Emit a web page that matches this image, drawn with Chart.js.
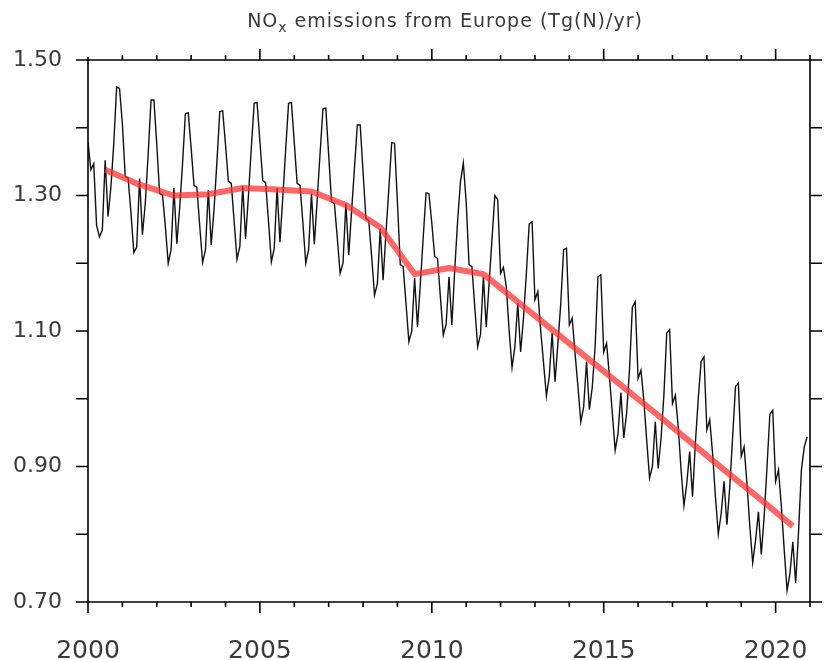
<!DOCTYPE html>
<html>
<head>
<meta charset="utf-8">
<script src="https://cdn.jsdelivr.net/npm/chart.js@4.4.0/dist/chart.umd.min.js"></script>
<style>
  html, body { margin: 0; padding: 0; background: #fff; }
  #wrap { width: 827px; height: 660px; }
</style>
</head>
<body>
<div id="wrap"><canvas id="c" width="827" height="660"></canvas></div>
<script>
// Monthly NOx emissions from Europe (Tg(N)/yr), one row per year, Jan..Dec
const firstYear = 2000;
const monthlyNOx = [
  [1.379, 1.338, 1.347, 1.256, 1.239, 1.249, 1.352, 1.269, 1.313, 1.377, 1.460, 1.458], // 2000
  [1.406, 1.328, 1.326, 1.274, 1.216, 1.224, 1.325, 1.242, 1.289, 1.361, 1.441, 1.441], // 2001
  [1.376, 1.303, 1.301, 1.254, 1.200, 1.220, 1.311, 1.229, 1.282, 1.347, 1.421, 1.422], // 2002
  [1.370, 1.315, 1.312, 1.255, 1.201, 1.220, 1.308, 1.227, 1.280, 1.350, 1.424, 1.425], // 2003
  [1.375, 1.321, 1.318, 1.262, 1.206, 1.225, 1.314, 1.236, 1.300, 1.370, 1.436, 1.437], // 2004
  [1.380, 1.322, 1.319, 1.262, 1.202, 1.222, 1.311, 1.231, 1.298, 1.368, 1.436, 1.437], // 2005
  [1.378, 1.318, 1.315, 1.260, 1.200, 1.220, 1.303, 1.228, 1.294, 1.362, 1.428, 1.429], // 2006
  [1.360, 1.291, 1.288, 1.238, 1.185, 1.200, 1.288, 1.212, 1.277, 1.340, 1.404, 1.404], // 2007
  [1.335, 1.266, 1.263, 1.210, 1.153, 1.170, 1.251, 1.175, 1.245, 1.310, 1.378, 1.377], // 2008
  [1.290, 1.198, 1.195, 1.140, 1.084, 1.100, 1.178, 1.106, 1.170, 1.238, 1.304, 1.303], // 2009
  [1.259, 1.210, 1.207, 1.150, 1.094, 1.110, 1.180, 1.109, 1.190, 1.262, 1.320, 1.348], // 2010
  [1.290, 1.198, 1.195, 1.135, 1.077, 1.095, 1.180, 1.106, 1.170, 1.235, 1.300, 1.294], // 2011
  [1.185, 1.194, 1.165, 1.100, 1.046, 1.077, 1.141, 1.069, 1.119, 1.185, 1.258, 1.261], // 2012
  [1.146, 1.158, 1.101, 1.053, 1.004, 1.033, 1.097, 1.025, 1.081, 1.140, 1.220, 1.222], // 2013
  [1.109, 1.119, 1.067, 1.018, 0.966, 0.988, 1.055, 0.984, 1.017, 1.077, 1.180, 1.183], // 2014
  [1.069, 1.082, 1.033, 0.979, 0.924, 0.949, 1.009, 0.942, 0.979, 1.043, 1.135, 1.143], // 2015
  [1.030, 1.042, 0.998, 0.939, 0.883, 0.900, 0.966, 0.897, 0.941, 1.005, 1.097, 1.102], // 2016
  [0.993, 1.005, 0.959, 0.895, 0.842, 0.875, 0.922, 0.855, 0.935, 1.000, 1.055, 1.062], // 2017
  [0.954, 0.969, 0.919, 0.855, 0.800, 0.831, 0.878, 0.814, 0.870, 0.944, 1.018, 1.023], // 2018
  [0.915, 0.929, 0.875, 0.811, 0.758, 0.791, 0.833, 0.770, 0.826, 0.900, 0.977, 0.983], // 2019
  [0.878, 0.895, 0.841, 0.777, 0.717, 0.742, 0.789, 0.728, 0.803, 0.895, 0.929, 0.944]  // 2020
];

// Annual means, plotted at mid-year
const annualYears = [2000, 2001, 2002, 2003, 2004, 2005, 2006, 2007, 2008, 2009, 2010,
                     2011, 2012, 2013, 2014, 2015, 2016, 2017, 2018, 2019, 2020];
const annualMeanNOx = [1.338, 1.316, 1.300, 1.302, 1.311, 1.309, 1.306, 1.286, 1.253, 1.184, 1.193,
                       1.184, 1.143, 1.102, 1.061, 1.020, 0.979, 0.937, 0.895, 0.854, 0.812];

// Labelled ticks
const xTickYears = [2000, 2005, 2010, 2015, 2020];
const yTickValues = [0.70, 0.90, 1.10, 1.30, 1.50];

const titleParts = { main: 'NO', sub: 'x', rest: ' emissions from Europe (Tg(N)/yr)' };

const FONT = '"DejaVu Sans", sans-serif';
const TEXT_COLOR = '#3a3a3a';

const monthlyPoints = monthlyNOx.flatMap((row, yi) =>
  row.map((v, m) => ({ x: firstYear + yi + m / 12, y: v })));
const annualPoints = annualYears.map((yr, i) => ({ x: yr + 0.5, y: annualMeanNOx[i] }));

// Frame, tick marks on all four sides, and the title with subscript
const frameAndTitle = {
  id: 'frameAndTitle',
  afterDraw(chart) {
    const { ctx, chartArea: a, scales: { x, y } } = chart;
    ctx.save();
    ctx.strokeStyle = '#000';
    ctx.lineWidth = 1.6;
    ctx.lineCap = 'butt';
    ctx.beginPath();
    ctx.rect(a.left, a.top, a.right - a.left, a.bottom - a.top);
    for (let yr = Math.ceil(x.min); yr <= x.max; yr++) {
      const px = x.getPixelForValue(yr);
      const major = yr % 5 === 0;
      ctx.moveTo(px, a.bottom); ctx.lineTo(px, a.bottom + (major ? 11 : 5));
      const topLen = yr === x.min ? 3 : (major ? 11 : 5);
      ctx.moveTo(px, a.top); ctx.lineTo(px, a.top - topLen);
    }
    for (let k = Math.round(y.min * 10); k <= Math.round(y.max * 10); k++) {
      const py = y.getPixelForValue(k / 10);
      ctx.moveTo(a.left - 12, py); ctx.lineTo(a.left, py);
      ctx.moveTo(a.right, py); ctx.lineTo(a.right + 12, py);
    }
    ctx.stroke();

    // Title
    ctx.fillStyle = TEXT_COLOR;
    ctx.textBaseline = 'alphabetic';
    ctx.textAlign = 'left';
    ctx.letterSpacing = '1px';
    const big = '19px ' + FONT, small = '14px ' + FONT;
    ctx.font = big;
    const w1 = ctx.measureText(titleParts.main).width;
    const w3 = ctx.measureText(titleParts.rest).width;
    ctx.font = small;
    const w2 = ctx.measureText(titleParts.sub).width;
    let tx = 445 - (w1 + w2 + w3) / 2;
    const base = 27;
    ctx.font = big;
    ctx.fillText(titleParts.main, tx, base);
    tx += w1;
    ctx.font = small;
    ctx.fillText(titleParts.sub, tx, base + 5);
    tx += w2;
    ctx.font = big;
    ctx.fillText(titleParts.rest, tx, base);
    ctx.restore();
  }
};

new Chart(document.getElementById('c'), {
  type: 'line',
  data: {
    datasets: [
      {
        label: 'Annual mean',
        data: annualPoints,
        borderColor: 'rgba(255, 45, 45, 0.72)',
        borderWidth: 6,
        pointRadius: 0,
        tension: 0,
        borderJoinStyle: 'round',
        borderCapStyle: 'butt'
      },
      {
        label: 'Monthly',
        data: monthlyPoints,
        borderColor: '#111',
        borderWidth: 1.4,
        pointRadius: 0,
        tension: 0
      }
    ]
  },
  options: {
    responsive: false,
    animation: false,
    devicePixelRatio: 1,
    layout: { padding: { left: 0, right: 17, top: 60, bottom: 0 } },
    plugins: {
      legend: { display: false },
      tooltip: { enabled: false },
      title: { display: false }
    },
    scales: {
      x: {
        type: 'linear',
        min: 2000,
        max: 2021,
        afterBuildTicks: s => { s.ticks = xTickYears.map(v => ({ value: v })); },
        afterFit: s => { s.height = 58; s.paddingLeft = 0; s.paddingRight = 0; },
        grid: { display: false, drawTicks: false },
        border: { display: false },
        ticks: {
          padding: 34,
          color: TEXT_COLOR,
          maxRotation: 0,
          autoSkip: false,
          font: { family: FONT, size: 25 },
          callback: v => String(v)
        }
      },
      y: {
        type: 'linear',
        min: 0.7,
        max: 1.5,
        afterBuildTicks: s => { s.ticks = yTickValues.map(v => ({ value: v })); },
        afterFit: s => { s.width = 88; s.paddingTop = 0; s.paddingBottom = 0; },
        grid: { display: false, drawTicks: false },
        border: { display: false },
        ticks: {
          padding: 26,
          color: TEXT_COLOR,
          font: { family: FONT, size: 22 },
          callback: v => Number(v).toFixed(2)
        }
      }
    }
  },
  plugins: [frameAndTitle]
});
</script>
</body>
</html>
